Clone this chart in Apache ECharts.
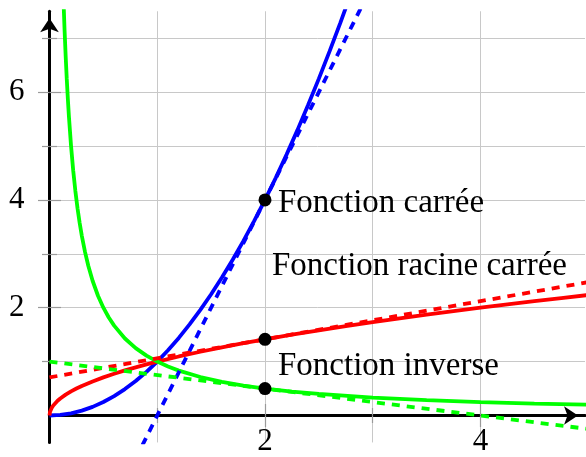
<!DOCTYPE html>
<html>
<head>
<meta charset="utf-8">
<script src="https://cdn.jsdelivr.net/npm/echarts@6/dist/echarts.min.js"></script>
<style>
  html, body { margin: 0; padding: 0; background: #ffffff; }
  #chart { width: 586px; height: 457px; }
</style>
</head>
<body>
<div id="chart"></div>
<script>
// x ↦ x²
const squareX = [0, 0.1, 0.2, 0.3, 0.4, 0.5, 0.6, 0.7, 0.8, 0.9, 1.0, 1.1, 1.2, 1.3, 1.4,
  1.5, 1.6, 1.7, 1.8, 1.9, 2.0, 2.1, 2.2, 2.3, 2.4, 2.5, 2.6, 2.7, 2.8];
const squareY = [0, 0.01, 0.04, 0.09, 0.16, 0.25, 0.36, 0.49, 0.64, 0.81, 1, 1.21, 1.44, 1.69, 1.96,
  2.25, 2.56, 2.89, 3.24, 3.61, 4, 4.41, 4.84, 5.29, 5.76, 6.25, 6.76, 7.29, 7.84];

// x ↦ √x
const sqrtX = [0, 0.005, 0.01, 0.02, 0.035, 0.05, 0.075, 0.1, 0.15, 0.2, 0.25, 0.3, 0.4, 0.5,
  0.6, 0.7, 0.8, 0.9, 1.0, 1.2, 1.4, 1.6, 1.8, 2.0, 2.25, 2.5, 2.75, 3.0, 3.25, 3.5, 3.75,
  4.0, 4.25, 4.5, 4.75, 5.0];
const sqrtY = [0, 0.071, 0.1, 0.141, 0.187, 0.224, 0.274, 0.316, 0.387, 0.447, 0.5, 0.548, 0.632, 0.707,
  0.775, 0.837, 0.894, 0.949, 1, 1.095, 1.183, 1.265, 1.342, 1.414, 1.5, 1.581, 1.658, 1.732, 1.803, 1.871, 1.936,
  2, 2.062, 2.121, 2.179, 2.236];

// x ↦ 1/x
const inverseX = [0.13, 0.14, 0.15, 0.16, 0.17, 0.18, 0.2, 0.22, 0.24, 0.26, 0.28, 0.3, 0.33, 0.36,
  0.4, 0.45, 0.5, 0.55, 0.6, 0.7, 0.8, 0.9, 1.0, 1.1, 1.2, 1.4, 1.6, 1.8, 2.0, 2.25, 2.5,
  3.0, 3.5, 4.0, 4.5, 5.0];
const inverseY = [7.692, 7.143, 6.667, 6.25, 5.882, 5.556, 5, 4.545, 4.167, 3.846, 3.571, 3.333, 3.03, 2.778,
  2.5, 2.222, 2, 1.818, 1.667, 1.429, 1.25, 1.111, 1, 0.909, 0.833, 0.714, 0.625, 0.556, 0.5, 0.444, 0.4,
  0.333, 0.286, 0.25, 0.222, 0.2];

// Tangent lines at x = 2 (end points, clipped by the plot area)
const tangentSquareX = [0.8, 3.0];
const tangentSquareY = [-0.8, 8.0];
const tangentSqrtX = [0, 5.0];
const tangentSqrtY = [0.707, 2.475];
const tangentInverseX = [0, 5.0];
const tangentInverseY = [1, -0.25];

// Marked points at x = 2
const pointX = [2, 2, 2];
const pointY = [4, 1.414, 0.5];

// Text nodes
const labelText = ['Fonction carrée', 'Fonction racine carrée', 'Fonction inverse'];
const labelX = [2, 2, 2];
const labelY = [3.94, 2.77, 0.92];

// Axis ticks and labels
const xMajorTicks = [2, 4];
const xMinorTicks = [1, 3];
const yMajorTicks = [2, 4, 6];
const yMinorTicks = [1, 3, 5, 7];

const X_MIN = 0, X_MAX = 4.97, Y_MIN = -0.5, Y_MAX = 7.5;
const labelDistance = [13, 7, 13];

const zip = (xs, ys) => xs.map((x, i) => [x, ys[i]]);

const FONT = '"Liberation Serif", "DejaVu Serif", serif';
const TICK_COLOR = '#9a9a9a';
const GRID_COLOR = '#c8c8c8';

// One axis layer: the main layer carries the arrowed line and the labels,
// the other layers only add tick marks (outside / inside) and grid lines.
function makeAxis(dim, opt) {
  const isX = dim === 'x';
  return {
    type: 'value',
    min: isX ? X_MIN : Y_MIN,
    max: isX ? X_MAX : Y_MAX,
    position: isX ? 'bottom' : 'left',
    axisLine: opt.main ? {
      show: true,
      onZero: true,
      symbol: ['none', 'arrow'],
      symbolSize: [14, 14],
      symbolOffset: [0, -7],
      lineStyle: { color: '#000000', width: 3 }
    } : { show: false, onZero: true },
    axisTick: {
      show: true,
      inside: !!opt.inside,
      customValues: opt.ticks,
      length: opt.tickLen,
      lineStyle: { color: TICK_COLOR, width: 1.2 }
    },
    axisLabel: opt.main ? {
      show: true,
      customValues: opt.labels,
      fontFamily: FONT,
      fontSize: 31,
      color: '#000000',
      margin: isX ? -16 : 25
    } : { show: false },
    splitLine: { show: !!opt.split, lineStyle: { color: GRID_COLOR, width: 1 } },
    minorTick: { show: false },
    minorSplitLine: { show: false }
  };
}

const chart = echarts.init(document.getElementById('chart'), null, { renderer: 'canvas' });

const lineBase = { type: 'line', showSymbol: false, symbol: 'none', clip: true, animation: false };
const LINE_W = 3.8;
const DASH = [8, 7];

chart.setOption({
  animation: false,
  backgroundColor: '#ffffff',
  grid: {
    left: 49.5, right: 1, top: 11.25, bottom: 14.55,
    containLabel: false, outerBoundsMode: 'none'
  },
  xAxis: [
    makeAxis('x', { main: true, ticks: xMajorTicks, labels: xMajorTicks, tickLen: 11.5, split: true }),
    makeAxis('x', { ticks: xMinorTicks, tickLen: 7.5, split: true }),
    makeAxis('x', { ticks: xMajorTicks, tickLen: 11.5, inside: true }),
    makeAxis('x', { ticks: xMinorTicks, tickLen: 7.5, inside: true })
  ],
  yAxis: [
    makeAxis('y', { main: true, ticks: yMajorTicks, labels: yMajorTicks, tickLen: 11.5, split: true }),
    makeAxis('y', { ticks: yMinorTicks, tickLen: 7.5, split: true }),
    makeAxis('y', { ticks: yMajorTicks, tickLen: 11.5, inside: true }),
    makeAxis('y', { ticks: yMinorTicks, tickLen: 7.5, inside: true })
  ],
  series: [
    Object.assign({}, lineBase, {
      name: 'carrée', data: zip(squareX, squareY), z: 3,
      lineStyle: { color: '#0000ff', width: LINE_W }
    }),
    Object.assign({}, lineBase, {
      name: 'racine', data: zip(sqrtX, sqrtY), z: 3,
      lineStyle: { color: '#ff0000', width: LINE_W }
    }),
    Object.assign({}, lineBase, {
      name: 'inverse', data: zip(inverseX, inverseY), z: 3,
      lineStyle: { color: '#00ff00', width: LINE_W }
    }),
    Object.assign({}, lineBase, {
      name: 'tangente carrée', data: zip(tangentSquareX, tangentSquareY), z: 4,
      lineStyle: { color: '#0000ff', width: LINE_W, type: DASH }
    }),
    Object.assign({}, lineBase, {
      name: 'tangente racine', data: zip(tangentSqrtX, tangentSqrtY), z: 4,
      lineStyle: { color: '#ff0000', width: LINE_W, type: DASH }
    }),
    Object.assign({}, lineBase, {
      name: 'tangente inverse', data: zip(tangentInverseX, tangentInverseY), z: 4,
      lineStyle: { color: '#00ff00', width: LINE_W, type: DASH }
    }),
    {
      type: 'scatter', name: 'points', z: 5, animation: false,
      symbol: 'circle', symbolSize: 13,
      itemStyle: { color: '#000000', opacity: 1 },
      data: zip(pointX, pointY)
    },
    {
      type: 'scatter', name: 'labels', z: 6, animation: false,
      symbolSize: 0, silent: true,
      itemStyle: { opacity: 1 },
      data: labelText.map((t, i) => ({
        value: [labelX[i], labelY[i]],
        name: t,
        label: { distance: labelDistance[i] }
      })),
      label: {
        show: true,
        position: 'right',
        formatter: p => p.name,
        fontFamily: FONT,
        fontSize: 33,
        color: '#000000',
        opacity: 1
      }
    }
  ]
});
</script>
</body>
</html>
